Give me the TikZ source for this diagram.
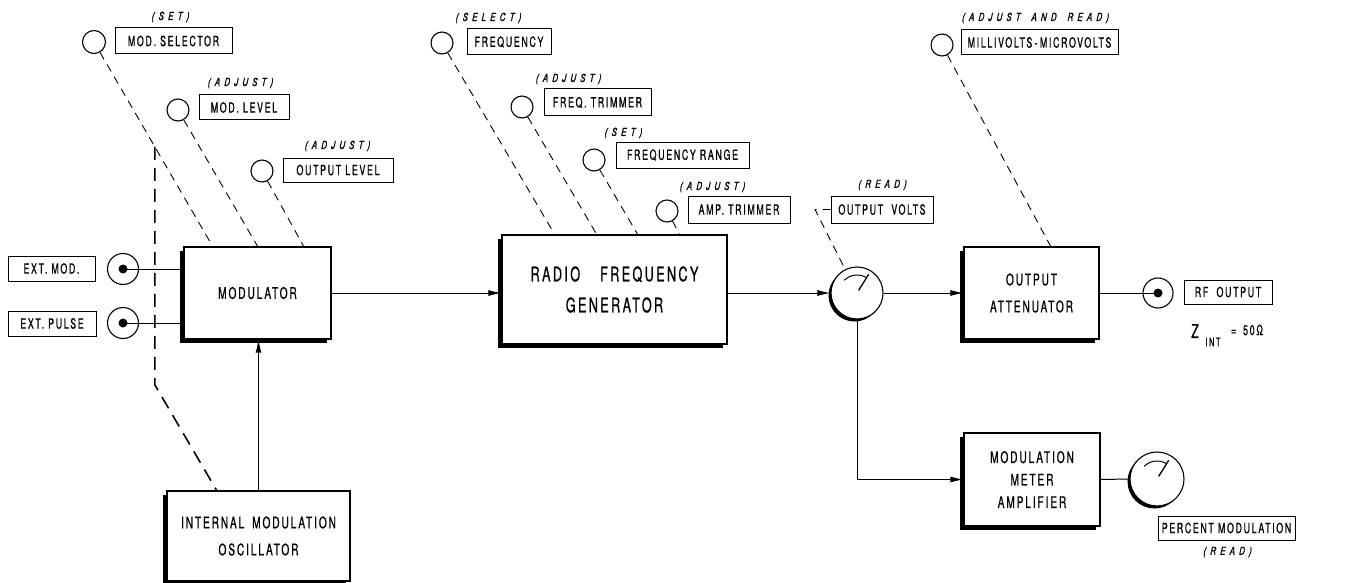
\documentclass[tikz,border=0pt]{standalone}
\usepackage{fontspec}
\setmainfont{TeX Gyre Heros}
\newfontfamily\lblfont{TeX Gyre Heros}[FakeStretch=0.63,LetterSpace=12,FakeBold=0.8]
\newfontfamily\hintfont{TeX Gyre Heros}[FakeStretch=0.72,LetterSpace=38,FakeSlant=0.22,FakeBold=1.2]
\usetikzlibrary{arrows.meta,shadows,calc}
\begin{document}
\begin{tikzpicture}[x=1pt,y=-1pt,
 lbl/.style={draw,line width=1pt,inner sep=0pt,font=\lblfont\fontsize{14}{14}\selectfont},
 blk/.style={draw,fill=white,line width=1.2pt,inner sep=0pt,align=center,
   font=\lblfont\fontsize{16}{27}\selectfont,
   drop shadow={shadow xshift=-4pt,shadow yshift=-4pt,fill=black,opacity=1}},
 knob/.style={circle,draw,line width=1.1pt,minimum size=22pt,inner sep=0pt},
 jack/.style={circle,draw,line width=1.1pt,minimum size=31pt,inner sep=0pt},
 meter/.style={circle,draw,fill=white,line width=1.1pt,minimum size=52pt,inner sep=0pt,
   drop shadow={shadow xshift=-2.5pt,shadow yshift=-2.5pt,fill=black,opacity=1}},
 hint/.style={font=\hintfont\fontsize{11}{11}\selectfont,inner sep=0pt},
 ctl/.style={line width=0.9pt,dash pattern=on 8pt off 6pt},
 ctlthick/.style={line width=1.6pt,dash pattern=on 13pt off 8pt},
 sig/.style={line width=1pt},
 arr/.style={-{Latex[length=13pt,width=6pt]}}
]
\useasboundingbox (0,0) rectangle (1351,583);

% ---------- blocks ----------
\node[blk,minimum width=147pt,minimum height=92pt] (mod) at (257.5,293) {MODULATOR};
\node[blk,minimum width=225pt,minimum height=109pt,font=\lblfont\fontsize{20}{31}\selectfont] (rf) at (614.5,289.5) {RADIO\quad FREQUENCY\\GENERATOR};
\node[blk,minimum width=135pt,minimum height=92pt] (att) at (1031.5,293) {OUTPUT\\ATTENUATOR};
\node[blk,minimum width=136pt,minimum height=93pt,font=\lblfont\fontsize{16}{22.5}\selectfont] (mma) at (1032,479.5) {MODULATION\\METER\\AMPLIFIER};
\node[blk,minimum width=183pt,minimum height=90pt] (osc) at (258.5,536) {INTERNAL\enspace MODULATION\\OSCILLATOR};

% ---------- label boxes ----------
\node[lbl,minimum width=117pt,minimum height=26pt] (ms) at (173.5,41) {MOD.\ SELECTOR};
\node[lbl,minimum width=90pt,minimum height=25pt] (ml) at (244,107.5) {MOD.\ LEVEL};
\node[lbl,minimum width=110pt,minimum height=24pt] (ol) at (338,170) {OUTPUT\ LEVEL};
\node[lbl,minimum width=87pt,minimum height=25pt] (em) at (51.5,268.5) {EXT.\ MOD.};
\node[lbl,minimum width=88pt,minimum height=25pt] (ep) at (52,323.5) {EXT.\ PULSE};
\node[lbl,minimum width=84pt,minimum height=26pt] (fq) at (509,42) {FREQUENCY};
\node[lbl,minimum width=107pt,minimum height=27pt] (ft) at (597.5,102.5) {FREQ.\ TRIMMER};
\node[lbl,minimum width=133pt,minimum height=26pt] (fr) at (682.5,155) {FREQUENCY\ RANGE};
\node[lbl,minimum width=102pt,minimum height=27pt] (at) at (739,209.5) {AMP.\ TRIMMER};
\node[lbl,minimum width=102pt,minimum height=27pt] (ov) at (882,209.5) {OUTPUT\ \ VOLTS};
\node[lbl,minimum width=157pt,minimum height=25pt] (mv) at (1039.5,42.5) {MILLIVOLTS\,-\,MICROVOLTS};
\node[lbl,minimum width=88pt,minimum height=24pt] (ro) at (1228,292) {RF\ \ OUTPUT};
\node[lbl,minimum width=137pt,minimum height=24pt] (pm) at (1226.5,528) {PERCENT\ MODULATION};

% ---------- hints ----------
\node[hint] (h1) at (170,17) {(SET)};
\node[hint] (h2) at (240,83) {(ADJUST)};
\node[hint] (h3) at (337,146) {(ADJUST)};
\node[hint] (h4) at (488,18) {(SELECT)};
\node[hint] (h5) at (568,79) {(ADJUST)};
\node[hint] (h6) at (623,133) {(SET)};
\node[hint] (h7) at (712,187) {(ADJUST)};
\node[hint] (h8) at (882,185) {(READ)};
\node[hint] (h9) at (1035,18) {(ADJUST\quad AND\quad READ)};
\node[hint] (h10) at (1227,552) {(READ)};

% ---------- knobs ----------
\node[knob,minimum size=23pt] (k1) at (94,42) {};
\node[knob] (k2) at (178,110) {};
\node[knob] (k3) at (262,171) {};
\node[knob] (k4) at (442,43) {};
\node[knob] (k5) at (522,107) {};
\node[knob] (k6) at (594,160) {};
\node[knob] (k7) at (667,211) {};
\node[knob] (k8) at (942,45) {};

\coordinate (t1) at (213,247);
\coordinate (t2) at (258,247);
\coordinate (t3) at (304,247);
\coordinate (t4) at (555,235);
\coordinate (t5) at (597,235);
\coordinate (t6) at (638,235);
\coordinate (t7) at (680,235);
\coordinate (t8) at (1051,247);

\draw[ctl] (k1) -- (t1);
\draw[ctl] (k2) -- (t2);
\draw[ctl] (k3) -- (t3);
\draw[ctl] (k4) -- (t4);
\draw[ctl] (k5) -- (t5);
\draw[ctl] (k6) -- (t6);
\draw[ctl] (k7) -- (t7);
\draw[ctl] (k8) -- (t8);

% thick dashed link to oscillator
\coordinate (b1) at ($(k1)!0.512!(t1)$);
\coordinate (b2) at (155,385);
\coordinate (b3) at (217,491);
\draw[ctlthick] (b1) -- (b1 |- b2) -- (b3);

% ---------- jacks ----------
\node[jack] (j1) at (123,269) {};
\node[jack] (j2) at (123,323) {};
\node[jack,minimum size=30pt] (j3) at (1158,293) {};
\fill (j1.center) circle (4.5pt);
\fill (j2.center) circle (4.5pt);
\fill (j3.center) circle (4.5pt);
\draw[sig] (j1.center) -- (j1.center -| mod.west);
\draw[sig] (j2.center) -- (j2.center -| mod.west);

% ---------- meters ----------
\node[meter] (m1) at (857,293) {};
\node[meter,minimum size=54pt] (m2) at (1157,479) {};
\foreach \m in {m1,m2}{
  \draw[line width=1pt] ($(\m.center)+(135:18pt)$) arc[start angle=135,end angle=60,radius=18pt];
  \draw[line width=1.3pt] ($(\m.center)+(58:3pt)$) -- ($(\m.center)+(58:22pt)$);
}

% ---------- signal connectors ----------
\draw[sig,arr] (osc.north) -- (osc.north |- mod.south);
\draw[sig,arr] (mod.east) -- (mod.east -| rf.west);
\draw[sig,arr] (rf.east |- m1) -- (m1.west);
\draw[sig,arr] (m1.east) -- (m1.east -| att.west);
\draw[sig] (att.east) -- (j3.center);
\draw[sig,arr] (m1.south) -- (m1.south |- mma.west) -- (mma.west);
\draw[sig] (mma.east) -- (m2.west);

% output volts read line
\coordinate (ovc) at (815,209.5);
\draw[ctl] (ov.west) -- (ovc) -- (m1);

% ---------- impedance note ----------
\node[inner sep=0pt,font=\lblfont\fontsize{19}{19}\selectfont] (zz) at (1195,331) {Z};
\node[inner sep=0pt,font=\lblfont\fontsize{12}{12}\selectfont] (zi) at (1213,342) {INT};
\node[inner sep=0pt,font=\lblfont\fontsize{14}{14}\selectfont] (zv) at (1247,330) {=\enspace 50Ω};
\end{tikzpicture}
\end{document}
